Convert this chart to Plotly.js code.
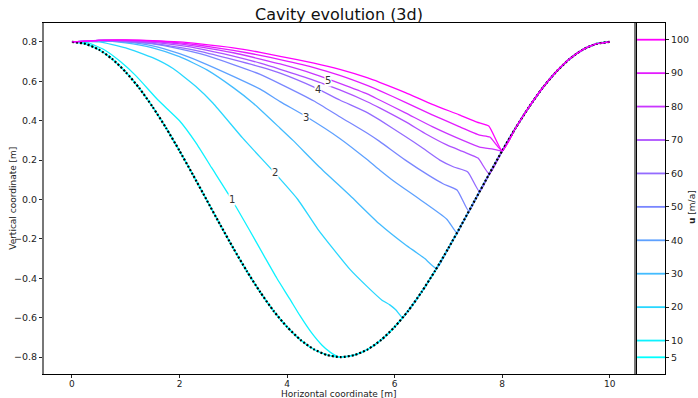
<!DOCTYPE html>
<html><head><meta charset="utf-8">
<script src="https://cdn.plot.ly/plotly-3.0.1.min.js"></script>
<style>body{margin:0;background:#fff}</style>
</head><body><div id="chart" style="width:698px;height:398px"></div>
<script>
// Bed geometry
const bedX = [0,0.25,0.5,0.75,1,1.25,1.5,1.75,2,2.25,2.5,2.75,3,3.25,3.5,3.75,4,4.25,4.5,4.75,5,5.25,5.5,5.75,6,6.25,6.5,6.75,7,7.25,7.5,7.75,8,8.25,8.5,8.75,9,9.25,9.5,9.75,10];
const bedY = [0.8,0.79,0.761,0.713,0.647,0.566,0.47,0.363,0.247,0.125,0,-0.125,-0.247,-0.363,-0.47,-0.566,-0.647,-0.713,-0.761,-0.79,-0.8,-0.79,-0.761,-0.713,-0.647,-0.566,-0.47,-0.363,-0.247,-0.125,0,0.125,0.247,0.363,0.47,0.566,0.647,0.713,0.761,0.79,0.8];

// Velocity levels (colorbar)
const levels = [5,10,20,30,40,50,60,70,80,90,100];

// Cavity roofs for each velocity (before reattaching to the bed)
const cav10X = [0,0.3,0.6,0.9,1.2,1.6,2.0,2.3,2.6,2.97,3.3,3.6,3.81,4.05,4.24,4.45,4.65,4.8,4.95];
const cav10Y = [0.8,0.795,0.76,0.70,0.625,0.505,0.40,0.29,0.16,0,-0.155,-0.30,-0.40,-0.505,-0.59,-0.675,-0.74,-0.775,-0.799];
const cav20X = [0,0.5,1.0,1.5,1.88,2.3,2.62,3.18,3.77,4.2,4.57,5.17,5.5,5.76,5.91,6.02,6.15];
const cav20Y = [0.8,0.80,0.77,0.72,0.665,0.575,0.49,0.31,0.135,0,-0.15,-0.355,-0.445,-0.51,-0.535,-0.56,-0.60];
const cav30X = [0,0.5,1,1.5,2,2.51,3,3.37,3.87,4.11,4.6,5.17,5.72,6.2,6.41,6.56,6.78];
const cav30Y = [0.8,0.805,0.795,0.77,0.725,0.658,0.568,0.489,0.362,0.30,0.165,0.02,-0.125,-0.23,-0.27,-0.30,-0.35];
const cav40X = [0,0.5,1,1.5,2,2.38,3,3.5,3.87,4.36,4.98,5.5,5.72,6,6.47,6.97,7.16];
const cav40Y = [0.8,0.805,0.80,0.78,0.74,0.70,0.625,0.56,0.497,0.42,0.31,0.20,0.15,0.09,0,-0.1,-0.17];
const cav50X = [0,0.5,1,1.5,2,2.38,3,3.5,3.87,4.5,4.98,5.5,5.72,6.2,6.65,6.9,7.16,7.38];
const cav50Y = [0.8,0.805,0.80,0.79,0.765,0.74,0.685,0.635,0.587,0.50,0.42,0.335,0.295,0.20,0.12,0.08,0.048,-0.06];
const cav60X = [0,0.5,1,1.5,2,2.38,3,3.5,3.87,4.5,4.98,5.5,5.72,6.2,6.5,6.84,7.1,7.36,7.58];
const cav60Y = [0.8,0.808,0.803,0.793,0.772,0.752,0.71,0.673,0.641,0.57,0.505,0.44,0.404,0.32,0.265,0.20,0.165,0.14,0.04];
const cav70X = [0,0.5,1,1.5,2,2.38,3,3.5,3.87,4.5,4.98,5.5,5.72,6.2,6.6,6.97,7.3,7.55,7.76];
const cav70Y = [0.8,0.808,0.806,0.798,0.782,0.765,0.728,0.692,0.661,0.605,0.556,0.495,0.465,0.395,0.33,0.277,0.24,0.21,0.13];
const cav80X = [0,0.5,1,1.5,2,2.38,3,3.5,3.87,4.5,4.98,5.5,5.72,6.2,6.7,7.27,7.58,7.83,8.0];
const cav80Y = [0.8,0.808,0.808,0.802,0.79,0.775,0.745,0.713,0.688,0.637,0.59,0.535,0.505,0.44,0.37,0.30,0.266,0.256,0.247];
const cav90X = [0,0.5,1,1.5,2,2.38,3,3.5,3.87,4.5,4.98,5.5,5.72,6.2,6.7,7.2,7.58,7.77,8.0];
const cav90Y = [0.8,0.808,0.809,0.805,0.795,0.783,0.757,0.732,0.71,0.67,0.63,0.578,0.553,0.493,0.43,0.37,0.327,0.317,0.247];
const cav100X = [0,0.5,1,1.5,2,2.38,3,3.5,3.87,4.5,4.98,5.5,5.72,6.2,6.7,7.2,7.53,7.75,8.0];
const cav100Y = [0.8,0.808,0.81,0.807,0.80,0.79,0.77,0.747,0.727,0.692,0.66,0.617,0.595,0.543,0.483,0.43,0.393,0.373,0.247];

// Contour-style labels
const labelText = ['1','2','3','4','5'];
const labelX = [2.97,3.77,4.36,4.57,4.76];
const labelY = [0.0,0.135,0.417,0.56,0.603];

const cavX = {10:cav10X,20:cav20X,30:cav30X,40:cav40X,50:cav50X,60:cav60X,70:cav70X,80:cav80X,90:cav90X,100:cav100X};
const cavY = {10:cav10Y,20:cav20Y,30:cav30Y,40:cav40Y,50:cav50Y,60:cav60Y,70:cav70Y,80:cav80Y,90:cav90Y,100:cav100Y};

function cool(u){const t=(u-5)/95;return 'rgb('+Math.round(255*t)+','+Math.round(255*(1-t))+',255)';}
function withBed(cx,cy){
  const xs=cx.slice(), ys=cy.slice(); const endX=cx[cx.length-1];
  for(let i=0;i<bedX.length;i++){ if(bedX[i]>endX+1e-9){xs.push(bedX[i]);ys.push(bedY[i]);} }
  return [xs,ys];
}

const traces=[];
traces.push({x:bedX,y:bedY,mode:'lines',line:{color:cool(5),width:1.6,shape:'spline',smoothing:0.6},hoverinfo:'skip',showlegend:false});
function curveTrace(u){
  const p=withBed(cavX[u],cavY[u]);
  return {x:p[0],y:p[1],mode:'lines',line:{color:cool(u),width:1.3,shape:'spline',smoothing:0.5},hoverinfo:'skip',showlegend:false};
}
for(const u of levels){ if(u>5 && u<100) traces.push(curveTrace(u)); }
traces.push({x:bedX,y:bedY,mode:'lines',line:{color:'black',width:2.2,dash:'2px,2px',shape:'spline',smoothing:0.6},hoverinfo:'skip',showlegend:false});
traces.push(curveTrace(100));

for(const u of levels){
  traces.push({x:[0,1],y:[u,u],xaxis:'x2',yaxis:'y2',mode:'lines',line:{color:cool(u),width:1.8},hoverinfo:'skip',showlegend:false});
}

const F='DejaVu Sans, Liberation Sans, sans-serif';
const annotations=[];
for(let i=0;i<labelText.length;i++){
  annotations.push({x:labelX[i],y:labelY[i],xref:'x',yref:'y',text:labelText[i],showarrow:false,
    font:{family:F,size:10,color:'#333'},bgcolor:'white',borderpad:0,xanchor:'center',yanchor:'middle'});
}
annotations.push({xref:'paper',yref:'paper',x:0.475,y:-0.057,text:'Horizontal coordinate [m]',showarrow:false,
  font:{family:F,size:9,color:'#222'},xanchor:'center',yanchor:'middle'});
annotations.push({xref:'paper',yref:'paper',x:-0.051,y:0.5,text:'Vertical coordinate [m]',showarrow:false,textangle:-90,
  font:{family:F,size:9,color:'#222'},xanchor:'center',yanchor:'middle'});
annotations.push({xref:'paper',yref:'paper',x:1.0435,y:0.476,text:'<b>u</b> [m/a]',showarrow:false,textangle:-90,
  font:{family:F,size:9,color:'#222'},xanchor:'center',yanchor:'middle'});

const layout={
  width:698,height:398,
  margin:{l:44,r:33,t:23,b:24},
  paper_bgcolor:'white',plot_bgcolor:'white',
  font:{family:F,size:10,color:'#222'},
  title:{text:'Cavity evolution (3d)',font:{family:F,size:16,color:'#111'},xref:'paper',x:0.475,xanchor:'center',yref:'container',y:0.965,yanchor:'middle'},
  xaxis:{domain:[0,0.95],range:[-0.52,10.45],tickvals:[0,2,4,6,8,10],ticks:'outside',ticklen:3,tickcolor:'#222',ticklabelstandoff:-2,
    showgrid:false,zeroline:false,showline:true,linecolor:'black',linewidth:1,mirror:true,tickfont:{family:F,size:9,color:'#222'}},
  yaxis:{domain:[0,1],range:[-0.886,0.896],tickvals:[-0.8,-0.6,-0.4,-0.2,0,0.2,0.4,0.6,0.8],tickformat:'.1f',ticks:'outside',ticklen:3,tickcolor:'#222',
    showgrid:false,zeroline:false,showline:true,linecolor:'#777',linewidth:2,mirror:true,tickfont:{family:F,size:9.5,color:'#222'}},
  xaxis2:{domain:[0.955,1],range:[0,1],anchor:'y2',showticklabels:false,ticks:'',showgrid:false,zeroline:false,
    showline:true,linecolor:'black',linewidth:1,mirror:true},
  yaxis2:{domain:[0,1],range:[0,105],anchor:'x2',side:'right',tickvals:levels,ticks:'outside',ticklen:3,tickcolor:'#222',
    showgrid:false,zeroline:false,showline:true,linecolor:'black',linewidth:1,mirror:true,tickfont:{family:F,size:9.5,color:'#222'}},
  annotations:annotations
};
Plotly.newPlot('chart',traces,layout,{displayModeBar:false,staticPlot:true});
</script></body></html>
